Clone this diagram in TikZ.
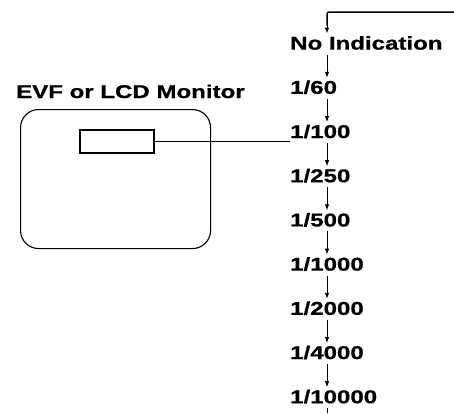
\documentclass[tikz,border=0pt]{standalone}
\usepackage{fontspec}
\setmainfont[FakeStretch=1.3,BoldFeatures={FakeBold=0.8}]{Liberation Sans}
\usetikzlibrary{calc,arrows.meta}
\begin{document}
\begin{tikzpicture}[x=1pt,y=-1pt,
  lbl/.style={anchor=base west,inner sep=0pt,font=\fontsize{18.5}{20}\selectfont\bfseries},
  stepar/.style={line width=0.9pt,-{Latex[length=6pt,width=4.5pt]}},
  frame/.style={draw,line width=1.1pt,rounded corners=18pt,minimum width=190pt,minimum height=139pt,anchor=north west,inner sep=0pt},
  disp/.style={draw,line width=1.6pt,minimum width=74pt,minimum height=23pt,inner sep=0pt}]
\useasboundingbox (0,0) rectangle (454,413);
% monitor
\node[lbl] (title) at (16,98) {EVF or LCD Monitor};
\node[frame] (mon) at (20,109) {};
\node[disp] (rect) at (117,141.5) {};
% labels
\foreach \t [count=\i from 0] in {No Indication,1/60,1/100,1/250,1/500,1/1000,1/2000,1/4000,1/10000}{
  \node[lbl] (l\i) at (290,{49.6+44.2*\i}) {\t};
}
\coordinate (col) at (327,0);
\coordinate (tr) at (454,12);
\coordinate (bot) at (327,413);
% connector from display
\draw[line width=1.3pt] (rect.east) -- (rect.east -| l2.west);
% loop top
\draw[line width=1.5pt,rounded corners=2pt] (tr) -| ($(l0.base -| col)+(0,-24)$);
\draw[stepar] ($(l0.base -| col)+(0,-26)$) -- ($(l0.base -| col)+(0,-16)$);
% steps
\foreach \i [evaluate=\i as \j using int(\i+1)] in {0,...,7}{
  \draw[stepar] ($(l\i.base -| col)+(0,5)$) -- ($(l\j.base -| col)+(0,-16)$);
}
\draw[line width=0.9pt] ($(l8.base -| col)+(0,5)$) -- (bot);
\end{tikzpicture}
\end{document}
